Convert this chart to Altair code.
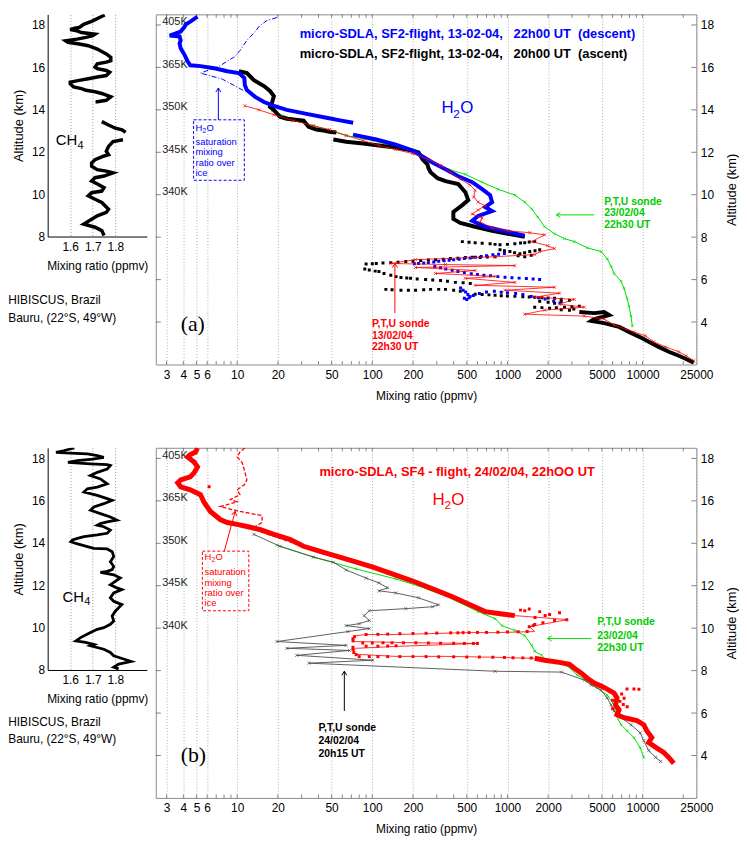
import altair as alt
import pandas as pd

FONT = "Liberation Sans"
SERIF = "Liberation Serif"
BLUE = "#0000ff"
RED = "#ff0000"
GREEN = "#00dd00"
GREEN_TXT = "#00cc00"
GRAY = "#4d4d4d"

# ---------------- axes values ----------------
X_TICKS = [3, 4, 5, 6, 10, 20, 50, 100, 200, 500, 1000, 2000, 5000, 10000, 25000]
MINOR_X = [3, 4, 5, 6, 7, 8, 9, 10, 20, 30, 40, 50, 60, 70, 80, 90, 100, 200, 300, 400, 500, 600, 700,
           800, 900, 1000, 2000, 3000, 4000, 5000, 6000, 7000, 8000, 9000, 10000, 20000]
ALT_TICKS = [4, 6, 8, 10, 12, 14, 16, 18]
THETA_ALTS = [18, 16, 14, 12, 10]
THETA_LABELS = ["405K", "365K", "350K", "345K", "340K"]
CH4_TICKS = [1.6, 1.7, 1.8]
CH4_ALT_TICKS = [8, 10, 12, 14, 16, 18]

# ---------------- CH4 profiles (altitude km, ppmv) ----------------
CH4_A_1 = [(18.47, 1.753), (18.35, 1.73), (18.19, 1.70), (18.11, 1.68), (18.03, 1.66), (17.88, 1.64),
           (17.85, 1.62), (17.78, 1.60), (17.72, 1.63), (17.64, 1.65), (17.56, 1.71), (17.49, 1.70),
           (17.41, 1.67), (17.33, 1.63), (17.25, 1.58), (17.18, 1.59), (17.10, 1.64), (17.02, 1.68),
           (16.86, 1.72), (16.63, 1.76), (16.47, 1.78), (16.31, 1.78), (16.24, 1.76), (16.16, 1.72),
           (16.01, 1.71), (15.93, 1.72), (15.85, 1.76), (15.77, 1.775), (15.61, 1.76), (15.54, 1.72),
           (15.46, 1.68), (15.38, 1.64), (15.30, 1.60), (15.22, 1.60), (15.07, 1.615), (14.99, 1.65),
           (14.91, 1.67), (14.84, 1.71), (14.76, 1.74), (14.68, 1.76), (14.60, 1.78), (14.44, 1.76),
           (14.37, 1.72), (14.29, 1.72)]
CH4_A_2 = [(13.43, 1.74), (13.27, 1.77), (13.12, 1.80), (13.04, 1.83), (12.92, 1.846)]
CH4_A_3 = [(12.57, 1.834), (12.49, 1.79), (12.26, 1.77), (12.03, 1.76), (11.87, 1.77), (11.79, 1.745),
           (11.63, 1.71), (11.48, 1.695), (11.32, 1.695), (11.16, 1.72), (11.09, 1.76), (11.01, 1.79),
           (10.86, 1.75), (10.78, 1.71), (10.62, 1.695), (10.46, 1.725), (10.31, 1.75), (10.15, 1.74),
           (10.07, 1.695), (9.92, 1.68), (9.76, 1.71), (9.61, 1.74), (9.29, 1.77), (9.14, 1.76),
           (8.98, 1.72), (8.82, 1.695), (8.59, 1.66), (8.44, 1.71), (8.28, 1.74), (8.05, 1.75)]
CH4_B = [(18.49, 1.618), (18.36, 1.57), (18.28, 1.537), (18.25, 1.60), (18.21, 1.676), (18.13, 1.72),
         (18.05, 1.749), (17.97, 1.70), (17.89, 1.632), (17.81, 1.59), (17.74, 1.69), (17.70, 1.764),
         (17.66, 1.778), (17.50, 1.764), (17.34, 1.72), (17.19, 1.69), (17.03, 1.734), (16.80, 1.764),
         (16.64, 1.72), (16.56, 1.676), (16.41, 1.661), (16.25, 1.72), (16.10, 1.764), (16.02, 1.786),
         (15.86, 1.749), (15.70, 1.705), (15.55, 1.69), (15.39, 1.734), (15.23, 1.778), (15.08, 1.807),
         (15.00, 1.764), (14.92, 1.734), (14.84, 1.72), (14.77, 1.749), (14.61, 1.778), (14.46, 1.764),
         (14.38, 1.72), (14.30, 1.661), (14.22, 1.632), (14.14, 1.61), (14.06, 1.603), (13.98, 1.625),
         (13.83, 1.676), (13.75, 1.705), (13.72, 1.764), (13.59, 1.786), (13.36, 1.793), (13.12, 1.778),
         (12.89, 1.793), (12.74, 1.786), (12.66, 1.764), (12.61, 1.734), (12.50, 1.793), (12.35, 1.822),
         (12.19, 1.800), (12.03, 1.778), (11.88, 1.807), (11.80, 1.829), (11.64, 1.793), (11.41, 1.778),
         (11.25, 1.793), (11.09, 1.829), (10.94, 1.815), (10.78, 1.800), (10.55, 1.786), (10.31, 1.793),
         (10.16, 1.778), (10.00, 1.749), (9.92, 1.720), (9.77, 1.690), (9.53, 1.646), (9.37, 1.625),
         (9.30, 1.668), (9.20, 1.705), (9.14, 1.690), (8.98, 1.749), (8.83, 1.778), (8.67, 1.793),
         (8.52, 1.837), (8.40, 1.87), (8.28, 1.815), (8.13, 1.793), (8.05, 1.815)]

# ---------------- panel (a) H2O (altitude km, ppmv) ----------------
BLUE_A_1 = [(18.39, 5.09), (18.16, 4.5), (18.02, 4.15), (17.93, 4.1), (17.69, 3.82), (17.50, 3.17),
            (17.46, 3.75), (17.27, 3.82), (17.13, 3.75), (16.90, 3.82), (16.57, 4.1), (16.29, 4.3),
            (16.10, 4.5), (16.06, 5.35), (15.96, 6.78), (15.82, 8.45), (15.73, 10.3), (15.50, 11.3),
            (15.17, 11.4), (14.93, 11.8), (14.61, 13.6), (14.37, 15.8), (14.19, 18.7), (14.0, 23.3),
            (13.81, 32.6), (13.63, 45.8), (13.49, 59), (13.39, 72.2)]
BLUE_A_2 = [(12.83, 72), (12.6, 107), (12.36, 149), (12.08, 199), (11.52, 279), (11.2, 348),
            (10.87, 433), (10.59, 549), (10.26, 650), (9.98, 744), (9.65, 770), (9.42, 684),
            (9.23, 770), (9.0, 607), (8.77, 549), (8.49, 684), (8.25, 1009), (8.07, 1343)]
BLUE_DOTS_A = [(6.75, 205), (6.76, 220), (6.78, 240), (6.80, 260), (6.83, 285), (6.86, 310), (6.89, 340),
               (6.91, 370), (6.93, 400), (6.96, 440), (6.99, 480), (7.02, 530), (7.05, 580), (7.09, 640),
               (7.13, 700), (7.17, 780), (7.20, 860), (7.23, 950),
               (6.62, 290), (6.56, 320), (6.50, 350), (6.44, 390), (6.38, 430), (6.33, 480), (6.28, 540),
               (6.24, 600), (6.21, 670), (6.18, 750), (6.14, 850), (6.11, 960), (6.09, 1080), (6.07, 1220),
               (6.05, 1380), (6.03, 1550), (6.01, 1730),
               (5.60, 450), (5.50, 470), (5.42, 490), (5.30, 510), (5.20, 530), (5.12, 480), (5.06, 500),
               (5.15, 520), (5.25, 560), (5.35, 620), (5.42, 700), (5.45, 800), (5.40, 900), (5.38, 1000),
               (5.35, 1150), (5.30, 1300), (5.20, 1500), (5.15, 1700), (5.08, 1900), (4.98, 2200),
               (4.90, 2450)]
BLACK_A_1 = [(15.82, 10.3), (15.73, 11.8), (15.40, 13.3), (15.12, 15.8), (14.89, 17.5), (14.65, 18.7),
             (14.33, 18.1), (14.14, 17.5), (14.0, 18.7), (13.67, 20.7), (13.58, 23.3), (13.49, 31),
             (13.2, 33.8), (13.07, 38.6), (13.02, 43.5), (12.97, 48.2), (12.93, 54.2)]
BLACK_A_2 = [(12.60, 51.5), (12.50, 64.2), (12.41, 85.5), (12.32, 112), (12.22, 149), (12.08, 199),
             (11.99, 220), (11.66, 236), (11.43, 256), (11.24, 261), (11.06, 270), (10.78, 304),
             (10.64, 348), (10.50, 433), (10.12, 488), (9.75, 513), (9.51, 464), (9.19, 398),
             (8.86, 398), (8.67, 448), (8.49, 577), (8.30, 770), (8.16, 1009), (8.02, 1343)]
BLACK_A_3 = [(4.47, 3404), (4.42, 4389), (4.47, 5199), (4.33, 5657), (4.14, 4389), (4.05, 4172),
             (3.95, 5199), (3.77, 6699), (3.49, 8206), (3.25, 9864), (3.07, 11104), (2.83, 13171),
             (2.60, 15622), (2.41, 18529), (2.27, 20800), (2.08, 23934)]
BLACK_DOTS_A = [(7.79, 464), (7.76, 520), (7.74, 577), (7.71, 650), (7.69, 744), (7.66, 810), (7.64, 881),
                (7.66, 1000), (7.69, 1135), (7.72, 1250), (7.74, 1343), (7.77, 1450), (7.79, 1592),
                (7.41, 881), (7.36, 950), (7.32, 1043), (7.27, 1130), (7.22, 1236), (7.27, 1340),
                (7.32, 1462), (7.36, 1600), (7.41, 1733), (7.15, 1500), (7.08, 1343), (7.12, 1200),
                (6.74, 90), (6.75, 100), (6.76, 107), (6.78, 120), (6.80, 137), (6.82, 155), (6.85, 177),
                (6.87, 200), (6.90, 228), (6.92, 260), (6.94, 294), (6.96, 335), (6.99, 378), (7.01, 430),
                (7.04, 488), (7.05, 550), (7.04, 628), (7.06, 710), (7.08, 810),
                (6.50, 88), (6.45, 95), (6.40, 105), (6.38, 112), (6.29, 122), (6.20, 137), (6.14, 150),
                (6.10, 163), (6.08, 180), (6.06, 192), (6.03, 215), (6.01, 248), (5.98, 280), (5.96, 320),
                (5.92, 360), (5.87, 412), (5.85, 470), (5.82, 531),
                (5.54, 126), (5.52, 140), (5.50, 163), (5.50, 185), (5.50, 209), (5.52, 240), (5.54, 270),
                (5.54, 310), (5.54, 348), (5.50, 400), (5.45, 448),
                (5.31, 577), (5.30, 650), (5.28, 730), (5.26, 810), (5.24, 900), (5.23, 1000), (5.21, 1135),
                (5.19, 1300), (5.18, 1450), (5.17, 1592), (5.15, 1800), (5.13, 2000), (5.12, 2233),
                (5.08, 2500), (5.03, 2877), (4.97, 2500), (4.89, 2233), (4.93, 2000), (4.98, 1733),
                (4.70, 1592), (4.68, 1800), (4.65, 2051), (4.67, 2300), (4.70, 2643), (4.72, 3000),
                (4.75, 3404), (4.62, 3100), (4.56, 2877), (4.58, 2500)]
RED_SONDE_A = [(14.19, 11.4), (14.0, 14.5), (13.77, 18.7), (13.49, 26.2), (13.25, 36.7), (13.07, 48.2),
               (12.79, 64.2), (12.55, 85.5), (12.32, 112), (12.13, 149), (11.94, 199), (11.66, 261),
               (11.38, 320), (11.06, 378), (10.73, 448), (10.45, 531), (10.21, 577), (9.89, 563),
               (9.65, 607), (9.47, 684), (9.28, 607), (9.09, 549), (8.91, 650), (8.72, 628), (8.44, 770),
               (8.30, 1009), (8.21, 1462), (8.11, 1884), (7.79, 1513), (7.60, 1982), (7.46, 2233),
               (7.32, 1733), (7.18, 1592), (7.08, 810), (6.94, 209), (6.76, 137), (6.71, 348),
               (6.66, 1135), (6.57, 209), (6.43, 577), (6.29, 294), (6.15, 810), (6.06, 488),
               (5.87, 1135), (5.73, 577), (5.64, 2233), (5.50, 959), (5.36, 2429), (5.17, 1592),
               (5.07, 3127), (4.84, 2429), (4.70, 3705), (4.56, 1884), (4.37, 1343), (4.28, 3705),
               (4.14, 5199), (3.86, 6156), (3.53, 8633), (3.35, 10500), (3.07, 12093), (2.83, 14800),
               (2.60, 18529), (2.41, 21000), (2.18, 23934)]
GREEN_SONDE_A = [(13.95, 18.1), (13.58, 25.3), (13.25, 36.7), (12.79, 64.2), (12.55, 101), (12.27, 149),
                 (11.94, 209), (11.52, 279), (11.20, 366), (10.96, 488), (10.59, 650), (10.26, 852),
                 (9.98, 1135), (9.65, 1343), (9.33, 1513), (8.95, 1675), (8.49, 1884), (8.16, 2233),
                 (7.93, 2643), (7.79, 3127), (7.50, 3898), (7.32, 4942), (6.99, 5469), (6.62, 5852),
                 (6.29, 6156), (5.92, 6930), (5.59, 7290), (5.12, 7669), (4.75, 7933), (4.28, 8206),
                 (3.81, 8400)]
SAT_A = [(18.35, 19.7), (18.21, 16.6), (17.97, 14.7), (17.69, 13.6), (17.27, 11.8), (16.80, 10.5),
         (16.52, 9.67), (16.29, 8.45), (16.06, 7.38), (15.73, 5.35), (15.45, 7.76), (14.89, 11.3)]

# ---------------- panel (b) H2O (altitude km, ppmv) ----------------
RED_B_1 = [(18.49, 5.09), (18.30, 4.92), (18.16, 4.44), (18.07, 4.30), (17.83, 4.8), (17.60, 5.09),
           (17.32, 4.8), (17.13, 4.5), (16.99, 3.82), (16.85, 3.63), (16.66, 3.82), (16.52, 4.5),
           (16.29, 5.35), (15.92, 5.7), (15.50, 6.34), (15.12, 7.5), (14.98, 8.45), (14.89, 10),
           (14.79, 11.8), (14.65, 14.7), (14.42, 18.7), (14.19, 24.5), (13.86, 31), (13.63, 40.6),
           (13.39, 54.2), (13.16, 72.2), (12.88, 101), (12.55, 142), (12.22, 199), (11.85, 279),
           (11.48, 391), (11.06, 549), (10.78, 684), (10.68, 881), (10.59, 1135)]
RED_B_ZIG = [(10.59, 1135), (10.45, 2233), (10.40, 2780), (10.07, 1462), (9.84, 1592), (9.79, 810),
             (9.79, 488), (9.75, 294), (9.70, 149), (9.70, 90), (9.65, 76), (9.51, 72), (9.37, 73),
             (9.33, 149), (9.30, 294), (9.28, 607), (9.14, 149), (9.05, 76), (8.91, 72), (8.77, 76),
             (8.67, 149), (8.67, 348), (8.63, 810), (8.60, 1135), (8.58, 1592)]
RED_B_2 = [(8.58, 1592), (8.49, 1884), (8.39, 2429), (8.30, 2877), (8.11, 3127), (7.88, 3522),
           (7.64, 3898), (7.41, 4389), (7.27, 4942), (7.13, 5469), (6.94, 6156), (6.71, 6476),
           (6.38, 6300), (6.15, 6699), (5.92, 6476), (5.78, 7290), (5.64, 9081), (5.45, 10204),
           (5.17, 10734), (4.84, 11700), (4.61, 11104), (4.37, 12600), (4.14, 14344), (3.91, 15622),
           (3.63, 17014)]
RED_DOTS_B = [(9.84, 1400), (9.83, 1200), (9.82, 1000), (9.81, 850), (9.80, 700), (9.80, 600), (9.79, 520),
              (9.79, 470), (9.78, 430), (9.78, 380), (9.77, 300), (9.76, 250), (9.75, 200), (9.74, 160),
              (9.72, 130), (9.71, 110), (9.70, 90),
              (9.30, 85), (9.30, 100), (9.31, 120), (9.31, 140), (9.31, 170), (9.31, 210), (9.30, 260),
              (9.29, 320), (9.29, 400), (9.28, 480), (9.28, 560), (9.28, 600),
              (9.15, 90), (9.15, 110), (9.16, 130), (9.17, 150),
              (8.66, 80), (8.66, 95), (8.66, 110), (8.66, 130), (8.66, 160), (8.66, 200), (8.66, 250),
              (8.65, 310), (8.65, 400), (8.64, 500), (8.64, 620), (8.63, 780), (8.62, 950), (8.61, 1100),
              (8.60, 1300), (8.59, 1500),
              (10.82, 1343), (10.78, 1733), (10.64, 2051), (10.73, 2429), (10.40, 2750), (10.36, 2233),
              (10.26, 1830), (10.17, 1592), (10.07, 1450), (10.12, 1550), (10.50, 1600), (10.60, 1900),
              (10.85, 1250), (10.90, 1450),
              (9.60, 74), (9.50, 72), (9.40, 72), (9.10, 72), (9.00, 72), (8.85, 73), (8.75, 76),
              (7.13, 7669), (7.13, 8633), (7.12, 9400), (6.90, 7000), (6.70, 7300), (6.55, 6800),
              (6.40, 7200), (6.30, 7700), (6.20, 6000), (6.05, 6500), (6.60, 6000),
              (16.66, 6.2)]
SAT_B = [(18.49, 11.4), (18.30, 10.5), (18.07, 10), (17.79, 10.9), (17.46, 11.3), (16.99, 11.8),
         (16.76, 11.3), (16.52, 10), (16.29, 10.5), (16.06, 8.9), (15.96, 10), (15.82, 8.45),
         (15.73, 7.5), (15.50, 10.5), (15.31, 15.3), (14.98, 15.3), (14.75, 13.3), (14.56, 14.7),
         (14.28, 19.7), (13.95, 27.6), (13.49, 43.5)]
GRAY_SONDE_B = [(14.42, 13.3), (13.86, 20.7), (13.35, 36.7), (13.11, 51.5), (12.74, 64.2), (12.36, 90),
                (12.13, 112), (11.90, 130), (11.76, 112), (11.66, 149), (11.43, 220), (11.10, 309),
                (11.01, 279), (10.92, 177), (10.82, 95), (10.59, 87), (10.36, 95), (10.21, 80),
                (10.12, 64), (9.98, 95), (9.84, 66), (9.37, 19.7), (9.19, 64), (9.05, 23.3), (8.95, 68),
                (8.72, 27.6), (8.49, 101), (8.35, 34), (7.97, 810), (7.93, 2513), (7.55, 3705),
                (7.32, 4172), (7.08, 4942), (6.71, 5469), (6.38, 5852), (6.10, 6156), (5.78, 6930),
                (5.45, 8206), (5.07, 9600), (4.70, 10204), (4.23, 11104), (3.91, 12500), (3.72, 13600)]
GREEN_SONDE_B = [(13.91, 19.7), (13.35, 36.7), (12.79, 76), (12.32, 149), (11.99, 220), (11.52, 348),
                 (10.78, 607), (10.45, 810), (10.12, 912), (9.89, 1135), (9.65, 1343), (9.19, 1513),
                 (8.91, 1592), (8.72, 1791), (8.44, 1982), (8.35, 2349), (8.21, 2780), (7.79, 3289),
                 (7.50, 3898), (7.18, 4617), (6.85, 5469), (6.38, 6156), (5.92, 6300), (5.45, 6930),
                 (5.17, 7669), (4.84, 8633), (4.37, 9600), (3.91, 10204)]

# ---------------- scales and axes ----------------
X_MIN, X_MAX = 2.5, 25000
Y_MIN, Y_MAX = 2, 18.5
XS = alt.Scale(type="log", domain=[X_MIN, X_MAX], nice=False)
YS = alt.Scale(domain=[Y_MIN, Y_MAX], nice=False, zero=False)
CXS = alt.Scale(domain=[1.5, 1.94], nice=False, zero=False)
CYS = alt.Scale(domain=[8, 18.5], nice=False, zero=False)

X_AXIS = alt.Axis(values=X_TICKS, format="d", title="Mixing ratio (ppmv)", grid=True, gridDash=[1, 2],
                  gridColor="#9a9a9a", gridWidth=0.8, ticks=False, domain=False, labelFontSize=12,
                  labelPadding=5, labelColor="#000", labelFlush=False, labelOverlap=False,
                  titleFontSize=12, titleFontWeight="normal", titlePadding=10, titleColor="#000")
Y_RIGHT = alt.Axis(orient="right", values=ALT_TICKS, format="d", title="Altitude (km)", grid=False,
                   ticks=False, domain=False, labelFontSize=12, labelPadding=4, labelColor="#000",
                   titleFontSize=13, titleFontWeight="normal", titleAngle=270, titleBaseline="top",
                   titlePadding=12, titleColor="#000")
THETA_EXPR = " : ".join(f"datum.value == {a} ? '{l}'" for a, l in zip(THETA_ALTS, THETA_LABELS)) + " : ''"
Y_LEFT = alt.Axis(orient="left", values=THETA_ALTS, labelExpr=THETA_EXPR, grid=False, ticks=False,
                  domain=False, labelAlign="left", labelPadding=-6, labelFontSize=11, labelOffset=-3,
                  labelColor="#222", title=None)
CX_AXIS = alt.Axis(values=CH4_TICKS, format=".1f", title="Mixing ratio (ppmv)", grid=True, gridDash=[1, 2],
                   gridColor="#9a9a9a", ticks=False, domain=True, domainColor="#000", labelFontSize=12,
                   labelPadding=5, labelColor="#000", titleFontSize=12, titleFontWeight="normal",
                   titlePadding=8, titleColor="#000")
CY_AXIS = alt.Axis(values=CH4_ALT_TICKS, format="d", title="Altitude (km)", grid=False, ticks=False,
                   domain=True, domainColor="#000", labelFontSize=12, labelPadding=3, labelColor="#000",
                   titleFontSize=13, titleFontWeight="normal", titlePadding=6, titleColor="#000")

XMARK = "M-1,-1L1,1M1,-1L-1,1"
HEAD = "M-0.8,1.3L0,0L0.8,1.3"


def pts(rows, seg=0):
    return pd.DataFrame({"alt": [r[0] for r in rows], "v": [r[1] for r in rows],
                         "i": list(range(len(rows))), "seg": [seg] * len(rows)})


def segs(*lists):
    return pd.concat([pts(l, k) for k, l in enumerate(lists)], ignore_index=True)


def enc(xs, ys, xf="v", yf="alt"):
    return dict(x=alt.X(f"{xf}:Q", scale=xs, axis=None), y=alt.Y(f"{yf}:Q", scale=ys, axis=None))


def line(df, color, width, xs=XS, ys=YS, dash=None):
    props = dict(color=color, strokeWidth=width, clip=True)
    if dash is not None:
        props["strokeDash"] = dash
    return alt.Chart(df).mark_line(**props).encode(**enc(xs, ys), detail="seg:N", order="i:Q")


def dots(df, color, size, shape="square", filled=True, sw=1.0):
    return alt.Chart(df).mark_point(shape=shape, size=size, filled=filled, color=color, strokeWidth=sw,
                                    opacity=1, clip=True).encode(**enc(XS, YS))


def label(rows, color, size, weight="normal", font=FONT, dx=0, dy=0, xs=XS, ys=YS):
    df = pd.DataFrame(rows, columns=["v", "alt", "t"])
    return alt.Chart(df).mark_text(color=color, fontSize=size, fontWeight=weight, font=font, dx=dx, dy=dy,
                                   align="left", baseline="middle").encode(**enc(xs, ys), text="t:N")


def sub_text(v, a, color, size, base, sub, tail, sub_dx, tail_dx):
    return [label([(v, a, base)], color, size),
            label([(v, a, sub)], color, size * 0.7, dx=sub_dx, dy=size * 0.35),
            label([(v, a, tail)], color, size, dx=tail_dx)]


def arrow(v1, a1, v2, a2, color, angle):
    df = pd.DataFrame({"v": [v1], "alt": [a1], "v2": [v2], "alt2": [a2]})
    shaft = alt.Chart(df).mark_rule(color=color, strokeWidth=1).encode(
        x=alt.X("v:Q", scale=XS, axis=None), y=alt.Y("alt:Q", scale=YS, axis=None), x2="v2:Q", y2="alt2:Q")
    head = alt.Chart(df).mark_point(shape=HEAD, size=40, filled=False, color=color, strokeWidth=1,
                                    angle=angle, opacity=1).encode(**enc(XS, YS, "v2", "alt2"))
    return [shaft, head]


def box(v1, v2, a1, a2, color):
    df = pd.DataFrame({"v": [v1], "v2": [v2], "alt": [a1], "alt2": [a2]})
    return alt.Chart(df).mark_rect(fillOpacity=0, stroke=color, strokeWidth=1, strokeDash=[3, 2]).encode(
        x=alt.X("v:Q", scale=XS, axis=None), x2="v2:Q", y=alt.Y("alt:Q", scale=YS, axis=None), y2="alt2:Q")


def frame_ticks():
    # small inward tick marks on the frame, as in the original figure
    rows = []
    for v in MINOR_X:
        rows.append((v, Y_MAX, v, Y_MAX - 0.16))
        rows.append((v, Y_MIN, v, Y_MIN + 0.16))
    for a in ALT_TICKS:
        rows.append((X_MIN, a, X_MIN * 1.09, a))
        rows.append((X_MAX, a, X_MAX / 1.09, a))
    df = pd.DataFrame(rows, columns=["v", "alt", "v2", "alt2"])
    return alt.Chart(df).mark_rule(color="#666", strokeWidth=0.8).encode(
        x=alt.X("v:Q", scale=XS, axis=None), y=alt.Y("alt:Q", scale=YS, axis=None), x2="v2:Q", y2="alt2:Q")


def axes_layers():
    df = pd.DataFrame({"v": [100.0], "alt": [10.0]})
    a = alt.Chart(df).mark_point(opacity=0).encode(
        x=alt.X("v:Q", scale=XS, axis=X_AXIS), y=alt.Y("alt:Q", scale=YS, axis=Y_RIGHT))
    b = alt.Chart(df).mark_point(opacity=0).encode(
        x=alt.X("v:Q", scale=XS, axis=None), y=alt.Y("alt:Q", scale=YS, axis=Y_LEFT))
    return [a, b, frame_ticks()]


def ch4_panel(df, ch_v, ch_a, hib_alts, width):
    curve = alt.Chart(df).mark_line(color="#000", strokeWidth=width, clip=True).encode(
        x=alt.X("v:Q", scale=CXS, axis=CX_AXIS), y=alt.Y("alt:Q", scale=CYS, axis=CY_AXIS),
        detail="seg:N", order="i:Q")
    layers = [curve,
              label([(ch_v, ch_a, "CH")], "#000", 15, xs=CXS, ys=CYS),
              label([(ch_v, ch_a, "4")], "#000", 11, dx=22, dy=6, xs=CXS, ys=CYS),
              label([(1.325, hib_alts[0], "HIBISCUS, Brazil"), (1.325, hib_alts[1], "Bauru, (22°S, 49°W)")],
                    "#000", 12, xs=CXS, ys=CYS)]
    return alt.layer(*layers).resolve_axis(x="independent", y="independent").properties(width=100, height=224)


# ---------------- panel (a) ----------------
layers_a = axes_layers() + [
    line(pts(GREEN_SONDE_A), GREEN, 1),
    dots(pts(GREEN_SONDE_A), GREEN, 8, XMARK, False, 0.7),
    line(segs(BLACK_A_1, BLACK_A_2, BLACK_A_3), "#000", 4),
    dots(pts(BLACK_DOTS_A), "#000", 9),
    line(segs(BLUE_A_1, BLUE_A_2), BLUE, 4),
    dots(pts(BLUE_DOTS_A), BLUE, 9),
    line(pts(RED_SONDE_A), RED, 0.8),
    dots(pts(RED_SONDE_A), RED, 10, XMARK, False, 0.7),
    line(pts(SAT_A), BLUE, 1, dash=[5, 2, 1, 2]),
    box(4.76, 11.3, 13.53, 10.68, BLUE),
    label([(4.92, 12.50, "saturation"), (4.92, 11.99, "mixing"), (4.92, 11.48, "ratio over"),
           (4.92, 11.01, "ice")], BLUE, 9.5),
    label([(29.0, 17.55, "micro-SDLA, SF2-flight, 13-02-04,\u00a0\u00a0 22h00 UT\u00a0 (descent)")], BLUE, 13, "bold"),
    label([(29.0, 16.62, "micro-SDLA, SF2-flight, 13-02-04,\u00a0\u00a0 20h00 UT\u00a0 (ascent)")], "#000", 13, "bold"),
    label([(99.5, 3.91, "P,T,U sonde"), (99.5, 3.35, "13/02/04"), (99.5, 2.83, "22h30 UT")], RED, 10.5, "bold"),
    label([(5200, 9.65, "P,T,U sonde"), (5200, 9.14, "23/02/04"), (5200, 8.58, "22h30 UT")], GREEN_TXT, 10.5, "bold"),
    label([(3.82, 3.91, "(a)")], "#000", 22, font=SERIF),
] + sub_text(325, 14.09, BLUE, 17, "H", "2", "O", 12, 19) \
  + sub_text(4.92, 13.16, BLUE, 9.5, "H", "2", "O", 7, 11) \
  + arrow(7.26, 13.53, 7.26, 15.03, BLUE, 0) \
  + arrow(147, 4.42, 147, 6.76, RED, 0) \
  + arrow(4389, 9.05, 2300, 9.05, GREEN, 270)

main_a = alt.layer(*layers_a).resolve_axis(x="independent", y="independent").properties(
    width=545, height=353, view=alt.ViewBackground(stroke="#8c8c8c"))

# ---------------- panel (b) ----------------
layers_b = axes_layers() + [
    line(pts(GREEN_SONDE_B), GREEN, 1),
    dots(pts(GREEN_SONDE_B), GREEN, 8, XMARK, False, 0.7),
    line(pts(GRAY_SONDE_B), GRAY, 0.9),
    dots(pts(GRAY_SONDE_B), GRAY, 10, XMARK, False, 0.7),
    line(pts(SAT_B), RED, 1.3, dash=[4, 2]),
    line(segs(RED_B_1, RED_B_2), RED, 5),
    line(pts(RED_B_ZIG), RED, 0.8),
    dots(pts(RED_DOTS_B), RED, 9),
    box(5.53, 12.2, 13.63, 10.82, RED),
    label([(5.73, 12.64, "saturation"), (5.73, 12.13, "mixing"), (5.73, 11.66, "ratio over"),
           (5.73, 11.2, "ice")], RED, 9.5),
    label([(40.6, 17.36, "micro-SDLA, SF4 - flight, 24/02/04, 22hOO UT")], RED, 13, "bold"),
    label([(40.0, 5.31, "P,T,U sonde"), (40.0, 4.70, "24/02/04"), (40.0, 4.05, "20h15 UT")], "#000", 10.5, "bold"),
    label([(4617, 10.31, "P,T,U sonde"), (4617, 9.65, "23/02/04"), (4617, 9.05, "22h30 UT")], GREEN_TXT, 10.5, "bold"),
    label([(3.82, 4.0, "(b)")], "#000", 22, font=SERIF),
] + sub_text(279, 16.06, RED, 17, "H", "2", "O", 12, 19) \
  + sub_text(5.73, 13.35, RED, 9.5, "H", "2", "O", 7, 11) \
  + arrow(8.03, 13.63, 9.67, 15.50, RED, 15) \
  + arrow(62.1, 6.10, 62.1, 7.97, "#000", 0) \
  + arrow(4172, 9.51, 1982, 9.51, GREEN, 270)

main_b = alt.layer(*layers_b).resolve_axis(x="independent", y="independent").properties(
    width=545, height=353, view=alt.ViewBackground(stroke="#8c8c8c"))

ch4_a = ch4_panel(segs(CH4_A_1, CH4_A_2, CH4_A_3), 1.536, 12.56, (5.0, 4.15), 3.5)
ch4_b = ch4_panel(pts(CH4_B), 1.566, 11.47, (5.56, 4.76), 2.8)

chart = alt.concat(ch4_a, main_a, ch4_b, main_b, columns=2, spacing={"row": 84, "column": 9},
                   bounds="flush").properties(
    padding={"left": 0, "top": 2, "right": 0, "bottom": 0}
).configure(font=FONT).configure_view(stroke=None)

chart.save("out.html", embed_options={"renderer": "svg", "actions": False})
